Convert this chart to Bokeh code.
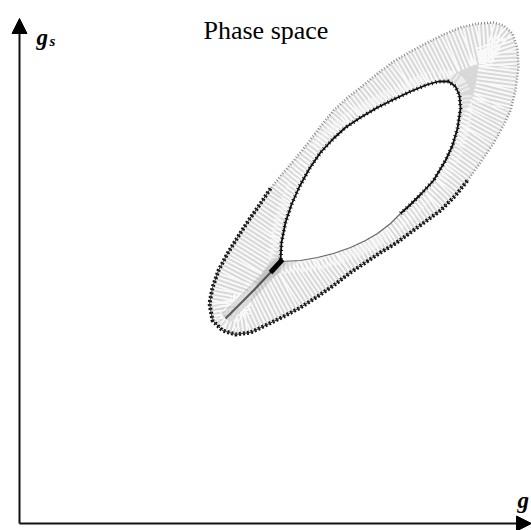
from bokeh.plotting import figure
from bokeh.models import Range1d, Arrow, NormalHead, Label
from bokeh.embed import file_html
from bokeh.resources import INLINE

# Orbit band in the (g, g_s) plane: outer and inner edges of the torus projection
outer_g = [190, 193, 203, 216, 231, 248, 266, 281, 298, 314, 331, 346, 361, 376, 391,
           406, 421, 436, 448, 461, 474, 484, 491, 496, 499, 498, 493, 484, 474, 458,
           441, 424, 408, 391, 374, 358, 341, 327, 314, 301, 288, 276, 264, 251, 241,
           229, 218, 208, 199, 193]
outer_gs = [220, 203, 193, 189, 191, 199, 208, 216, 227, 238, 251, 261, 271, 280, 291,
            302, 313, 328, 343, 361, 380, 398, 413, 433, 456, 475, 490, 498, 501, 500,
            496, 489, 481, 472, 462, 450, 436, 425, 413, 397, 380, 365, 351, 335, 320,
            303, 286, 270, 253, 236]

inner_g = [261, 281, 298, 314, 331, 346, 358, 371, 381, 391, 401, 414, 426, 433, 438,
           441, 440, 436, 429, 419, 408, 391, 374, 358, 341, 326, 314, 301, 290, 280,
           272, 266, 262]
inner_gs = [262, 263, 266, 270, 276, 283, 290, 300, 310, 319, 329, 343, 363, 378, 395,
            415, 428, 437, 442, 442, 439, 432, 424, 416, 406, 396, 385, 371, 355, 337,
            319, 301, 281]

# Fold ridge running from the cusp into the lower-left lobe
fold_g = [263, 251, 234, 219, 206]
fold_gs = [264, 251, 233, 218, 205]

title_text = "Phase space"
x_label = "g"
y_label = "g"
y_label_sub = "s"

g_lo, g_hi = -19, 512
gs_lo, gs_hi = -7, 523

p = figure(width=531, height=530, output_backend="svg", toolbar_location=None,
           x_range=Range1d(g_lo, g_hi), y_range=Range1d(gs_lo, gs_hi), min_border=0)
p.axis.visible = False
p.grid.visible = False
p.outline_line_color = None
p.background_fill_color = "white"

# Band body
p.patch(outer_g, outer_gs, fill_color="#d8d8d8", line_color=None)

# Windings of the trajectory: fine white ribs running across the band
ring_outer_g = outer_g + outer_g[:1]
ring_outer_gs = outer_gs + outer_gs[:1]
ring_inner_g = inner_g + inner_g[:1]
ring_inner_gs = inner_gs + inner_gs[:1]
p.line(ring_outer_g, ring_outer_gs, line_color="white", line_width=80,
       line_dash="2 2", line_alpha=0.85)
p.line(ring_inner_g, ring_inner_gs, line_color="white", line_width=24,
       line_dash="2 2", line_alpha=0.55)
# darker shading along the fold of the lower-left lobe
p.line(fold_g, fold_gs, line_color="#888888", line_width=12, line_alpha=0.25)

# Everything outside the band is blank
frame_g = [g_lo, g_hi, g_hi, g_lo]
frame_gs = [gs_lo, gs_lo, gs_hi, gs_hi]
p.multi_polygons(xs=[[[frame_g, outer_g]]], ys=[[[frame_gs, outer_gs]]],
                 fill_color="white", line_color=None)
# Hole in the middle of the band
p.patch(inner_g, inner_gs, fill_color="white", line_color=None)

# Edges: dark where the trajectory folds over, lighter on the far side
dark_outer_g = outer_g[43:] + outer_g[:19]
dark_outer_gs = outer_gs[43:] + outer_gs[:19]
p.line(dark_outer_g, dark_outer_gs, line_color="#111111", line_width=4,
       line_dash="2 2")
p.line(dark_outer_g, dark_outer_gs, line_color="#333333", line_width=1)
p.line(outer_g[18:44], outer_gs[18:44], line_color="#8a8a8a", line_width=2.5,
       line_dash="1 2")
dark_inner_g = inner_g[8:] + inner_g[:1]
dark_inner_gs = inner_gs[8:] + inner_gs[:1]
p.line(dark_inner_g, dark_inner_gs, line_color="#111111", line_width=1.8)
p.line(dark_inner_g, dark_inner_gs, line_color="#111111", line_width=4,
       line_dash="1 3")
p.line(inner_g[:9], inner_gs[:9], line_color="#666666", line_width=1.2)
p.line(fold_g, fold_gs, line_color="#222222", line_width=2, line_alpha=0.7)
p.line(fold_g[:2], fold_gs[:2], line_color="black", line_width=5)

# Axes drawn as arrows from the origin
p.add_layout(Arrow(x_start=0, y_start=0, x_end=0, y_end=505, line_width=2,
                   line_color="#111111",
                   end=NormalHead(size=15, fill_color="black", line_color="black")))
p.add_layout(Arrow(x_start=0, y_start=0, x_end=512, y_end=0, line_width=2,
                   line_color="#111111",
                   end=NormalHead(size=15, fill_color="black", line_color="black")))

serif = "Liberation Serif"
p.add_layout(Label(x=184, y=493, text=title_text, text_font=serif,
                   text_font_size="26px", text_color="black",
                   text_baseline="alphabetic"))
p.add_layout(Label(x=17, y=486, text=y_label, text_font=serif,
                   text_font_size="23px", text_font_style="bold italic",
                   text_color="black", text_baseline="alphabetic"))
p.add_layout(Label(x=30, y=483, text=y_label_sub, text_font=serif,
                   text_font_size="15px", text_font_style="bold italic",
                   text_color="black", text_baseline="alphabetic"))
p.add_layout(Label(x=498, y=23, text=x_label, text_font=serif,
                   text_font_size="23px", text_font_style="bold italic",
                   text_color="black", text_baseline="alphabetic"))

open("out.html", "w").write(file_html(p, INLINE))
